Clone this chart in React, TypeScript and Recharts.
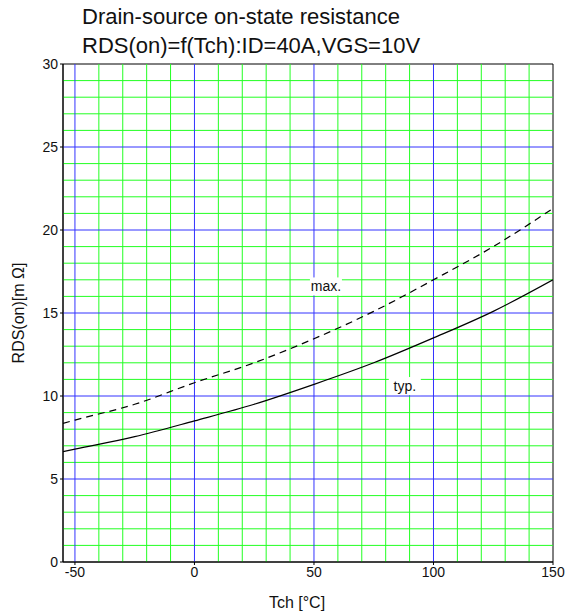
import React from 'react';
import {
  LineChart,
  Line,
  XAxis,
  YAxis,
  ReferenceLine,
  ReferenceArea,
  ReferenceDot,
} from 'recharts';

// channel temperature [°C]
const temps = [-55, -50, -25, 0, 25, 50, 75, 100, 125, 150];
// RDS(on) in mOhm
const typValues = [6.65, 6.8, 7.55, 8.5, 9.5, 10.7, 12.0, 13.5, 15.1, 17.0];
const maxValues = [8.35, 8.55, 9.5, 10.8, 12.0, 13.45, 15.1, 17.0, 19.0, 21.3];

const xTicks = [-50, 0, 50, 100, 150];
const yTicks = [0, 5, 10, 15, 20, 25, 30];
const xMinorGrid = [-40, -30, -20, -10, 10, 20, 30, 40, 60, 70, 80, 90, 110, 120, 130, 140];
const xMajorGrid = [-50, 0, 50, 100];
const yMinorGrid = [1, 2, 3, 4, 6, 7, 8, 9, 11, 12, 13, 14, 16, 17, 18, 19, 21, 22, 23, 24, 26, 27, 28, 29];
const yMajorGrid = [5, 10, 15, 20, 25];

// curve labels: [text, x, y]
const curveLabels: [string, number, number][] = [
  ['max.', 55, 16.6],
  ['typ.', 88, 10.6],
];

const data = temps.map((t, i) => ({ t, typ: typValues[i], max: maxValues[i] }));

const FONT = '"Liberation Sans", Arial, sans-serif';
const GREEN = '#22ff22';
const BLUE = '#3333ff';

function BoxLabel(props: any) {
  const { viewBox, value } = props;
  const cx = viewBox.x;
  const cy = viewBox.y;
  const w = value.length * 7.5 + 2;
  return (
    <g>
      <rect x={cx - w / 2} y={cy - 9} width={w} height={18} fill="#fff" />
      <text x={cx} y={cy + 5} textAnchor="middle" fontSize={14} fontFamily={FONT} fill="#111">
        {value}
      </text>
    </g>
  );
}

export default function App() {
  return (
    <div style={{ position: 'absolute', left: 0, top: 0, width: 569, height: 614, background: '#fff', fontFamily: FONT }}>
      <svg width={569} height={60} style={{ position: 'absolute', left: 0, top: 0 }}>
        <text x={82} y={23.5} fontSize={22} fontFamily={FONT} fill="#111">
          Drain-source on-state resistance
        </text>
        <text x={82} y={52.5} fontSize={22} fontFamily={FONT} fill="#111">
          RDS(on)=f(Tch):ID=40A,VGS=10V
        </text>
      </svg>
      <div style={{ position: 'absolute', left: 0, top: 0 }}>
        <LineChart width={569} height={614} data={data} margin={{ top: 64, right: 16, bottom: 0, left: 0 }}>
          <XAxis
            dataKey="t"
            type="number"
            domain={[-55, 150]}
            ticks={xTicks}
            allowDataOverflow
            height={52}
            stroke="#000"
            tickSize={3}
            tick={{ fill: '#111', fontSize: 14, fontFamily: FONT }}
            label={{ value: 'Tch [°C]', position: 'insideBottom', offset: 6, dx: -11, fill: '#111', fontSize: 16, fontFamily: FONT }}
          />
          <YAxis
            type="number"
            domain={[0, 30]}
            ticks={yTicks}
            width={63}
            stroke="#000"
            tickSize={3}
            tick={{ fill: '#111', fontSize: 14, fontFamily: FONT }}
            label={{ value: 'RDS(on)[m Ω]', angle: -90, position: 'insideLeft', offset: 18, fill: '#111', fontSize: 16, fontFamily: FONT, style: { textAnchor: 'middle' } }}
          />
          {xMinorGrid.map((v) => (
            <ReferenceLine key={'xm' + v} x={v} stroke={GREEN} strokeWidth={1} />
          ))}
          {yMinorGrid.map((v) => (
            <ReferenceLine key={'ym' + v} y={v} stroke={GREEN} strokeWidth={1} />
          ))}
          {xMajorGrid.map((v) => (
            <ReferenceLine key={'xM' + v} x={v} stroke={BLUE} strokeWidth={1} />
          ))}
          {yMajorGrid.map((v) => (
            <ReferenceLine key={'yM' + v} y={v} stroke={BLUE} strokeWidth={1} />
          ))}
          <ReferenceArea x1={-55} x2={150} y1={0} y2={30} fill="none" stroke="#000" strokeWidth={1} />
          <Line type="monotone" dataKey="max" stroke="#000" strokeWidth={1.2} strokeDasharray="7 5" dot={false} isAnimationActive={false} />
          <Line type="monotone" dataKey="typ" stroke="#000" strokeWidth={1.2} dot={false} isAnimationActive={false} />
          {curveLabels.map(([txt, x, y]) => (
            <ReferenceDot key={txt} x={x} y={y} r={0} stroke="none" fill="none" label={<BoxLabel value={txt} />} />
          ))}
        </LineChart>
      </div>
    </div>
  );
}
